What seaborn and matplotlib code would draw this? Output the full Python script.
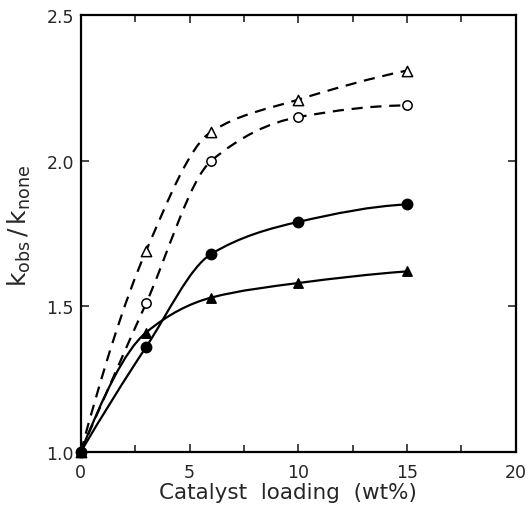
import numpy as np
import pandas as pd
import seaborn as sns
import matplotlib
matplotlib.use("Agg")
import matplotlib.pyplot as plt
from matplotlib.path import Path
from matplotlib.patches import PathPatch
from matplotlib.ticker import MultipleLocator

# Catalyst loading (wt%) and relative rate constants for each catalyst series
loading = [0, 3, 6, 10, 15]
open_triangle = [1.00, 1.69, 2.10, 2.21, 2.31]
open_circle = [1.00, 1.51, 2.00, 2.15, 2.19]
filled_circle = [1.00, 1.36, 1.68, 1.79, 1.85]
filled_triangle = [1.00, 1.41, 1.53, 1.58, 1.62]

x_ticks = [0, 5, 10, 15, 20]
y_ticks = [1.0, 1.5, 2.0, 2.5]

sns.set_style("ticks")
plt.rcParams["font.family"] = ["DejaVu Sans"]
plt.rcParams["mathtext.fontset"] = "dejavusans"

fig = plt.figure(figsize=(5.28, 5.06), dpi=100)
ax = fig.add_axes([0.153, 0.105, 0.824, 0.863])


def pchip_slopes(x, y):
    """Shape-preserving tangents (Fritsch-Carlson) at each point."""
    h = np.diff(x)
    d = np.diff(y) / h
    m = np.zeros_like(y)
    for k in range(1, len(x) - 1):
        if d[k - 1] * d[k] <= 0:
            m[k] = 0.0
        else:
            w1 = 2 * h[k] + h[k - 1]
            w2 = h[k] + 2 * h[k - 1]
            m[k] = (w1 + w2) / (w1 / d[k - 1] + w2 / d[k])
    m[0] = ((2 * h[0] + h[1]) * d[0] - h[0] * d[1]) / (h[0] + h[1])
    if np.sign(m[0]) != np.sign(d[0]):
        m[0] = 0.0
    m[-1] = ((2 * h[-1] + h[-2]) * d[-1] - h[-1] * d[-2]) / (h[-1] + h[-2])
    if np.sign(m[-1]) != np.sign(d[-1]):
        m[-1] = 0.0
    return m


def smooth_curve(ax, xs, ys, **style):
    """Draw a smooth Bezier curve through the points, tangents from PCHIP."""
    xs = np.asarray(xs, float)
    ys = np.asarray(ys, float)
    m = pchip_slopes(xs, ys)
    verts = [(xs[0], ys[0])]
    codes = [Path.MOVETO]
    for i in range(len(xs) - 1):
        h = xs[i + 1] - xs[i]
        verts += [(xs[i] + h / 3, ys[i] + m[i] * h / 3),
                  (xs[i + 1] - h / 3, ys[i + 1] - m[i + 1] * h / 3),
                  (xs[i + 1], ys[i + 1])]
        codes += [Path.CURVE4] * 3
    patch = PathPatch(Path(verts, codes), fill=False, transform=ax.transData, **style)
    ax.add_patch(patch)


dash = dict(color="black", lw=1.6, linestyle=(0, (5, 3.5)), capstyle="butt")
solid = dict(color="black", lw=1.6)

smooth_curve(ax, loading, open_triangle, **dash)
smooth_curve(ax, loading, open_circle, **dash)
smooth_curve(ax, loading, filled_circle, **solid)
smooth_curve(ax, loading, filled_triangle, **solid)

series = [
    (open_triangle, "^", "white", 55),
    (open_circle, "o", "white", 45),
    (filled_circle, "o", "black", 55),
    (filled_triangle, "^", "black", 45),
]
for values, marker, face, size in series:
    df = pd.DataFrame({"loading": loading, "k": values})
    sns.scatterplot(data=df, x="loading", y="k", marker=marker, s=size,
                    facecolor=face, edgecolor="black", linewidth=1.1,
                    ax=ax, zorder=5, clip_on=False, legend=False)

ax.set_xlim(0, 20)
ax.set_ylim(1.0, 2.5)
ax.set_xticks(x_ticks)
ax.set_yticks(y_ticks)
ax.set_xticklabels([str(t) for t in x_ticks])
ax.set_yticklabels([f"{t:.1f}" for t in y_ticks])
ax.xaxis.set_minor_locator(MultipleLocator(2.5))

ax.tick_params(which="both", direction="in", top=True, right=True,
               labelsize=12.5, width=1.2)
ax.tick_params(axis="x", pad=8)
ax.tick_params(axis="y", pad=5)
ax.tick_params(which="major", length=6)
ax.tick_params(which="minor", length=5)
for spine in ax.spines.values():
    spine.set_linewidth(1.6)
    spine.set_color("black")

ax.set_xlabel("Catalyst  loading  (wt%)", fontsize=15.5)
ax.xaxis.set_label_coords(0.475, -0.068, transform=ax.transAxes)
ax.xaxis.label.set_verticalalignment("top")
ax.set_ylabel(r"$\mathrm{k_{obs}}\,/\,\mathrm{k_{none}}$", fontsize=18)
ax.yaxis.set_label_coords(-0.11, 0.52, transform=ax.transAxes)

fig.savefig("out.png", dpi=100)
